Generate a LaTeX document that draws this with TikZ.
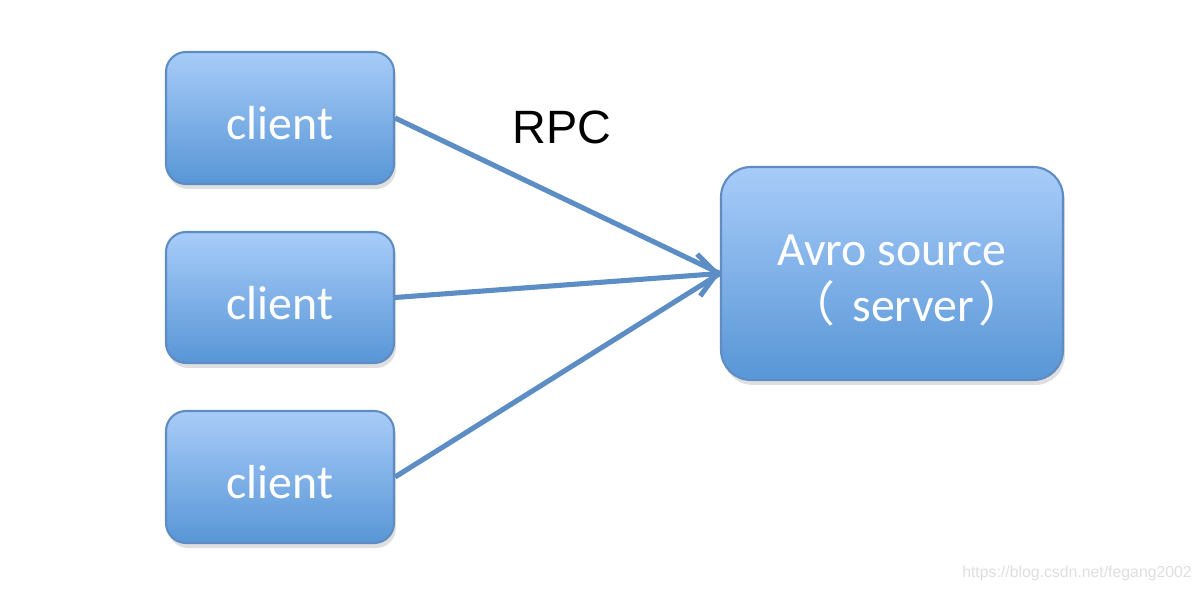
\documentclass[tikz,border=0pt]{standalone}
\usepackage{fontspec}
\setmainfont{Carlito}
\newfontfamily\arialfont{Liberation Sans}
\newfontfamily\cjk{Noto Sans CJK SC}
\usetikzlibrary{arrows.meta,shadows}

\definecolor{boxtop}{RGB}{168,204,249}
\definecolor{boxbot}{RGB}{88,150,214}
\definecolor{boxline}{RGB}{95,140,195}
\definecolor{arrowblue}{RGB}{92,141,197}

\tikzset{
  box/.style={draw=boxline, line width=0.6pt, rounded corners=0.2cm,
    top color=boxtop, bottom color=boxbot, text=white,
    drop shadow={opacity=0.25, shadow xshift=0.02cm, shadow yshift=-0.05cm},
    font=\fontsize{13.6}{16.2}\selectfont, inner sep=0pt},
  link/.style={draw=arrowblue, line width=1.45pt},
}

\begin{document}
\begin{tikzpicture}[scale=1]
  \useasboundingbox (0,0) rectangle (12.02,5.92);

  % clients
  \node[box, minimum width=2.28cm, minimum height=1.32cm, text height=12.5pt, text depth=0pt] (c1) at (2.80,4.74) {client};
  \node[box, minimum width=2.28cm, minimum height=1.31cm, text height=12.5pt, text depth=0pt] (c2) at (2.80,2.945) {client};
  \node[box, minimum width=2.28cm, minimum height=1.32cm, text height=12.5pt, text depth=0pt] (c3) at (2.80,1.15) {client};

  % server
  \node[box, rounded corners=0.3cm, minimum width=3.42cm, minimum height=2.13cm, align=center,
    text height=27.6pt, text depth=0pt]
    (srv) at (8.92,3.185) {Avro source\\\hspace*{0.3cm}{\cjk （}\hspace{0.17cm}server\hspace{0.05cm}{\cjk ）}};

  % RPC
  \node[font=\arialfont\fontsize{13.3}{16}\selectfont] (rpc) at (5.62,4.65) {RPC};

  % connectors
  \draw[link] (c1.east) -- (srv.west);
  \draw[link, -{Straight Barb[length=0.18cm, width=0.42cm]}] (c2.east) -- (srv.west);
  \draw[link] (c3.east) -- (srv.west);

  % watermark
  \node[font=\arialfont\fontsize{4.5}{5}\selectfont, text=black!13] (wm) at (10.77,0.19) {https://blog.csdn.net/fegang2002};
\end{tikzpicture}
\end{document}
